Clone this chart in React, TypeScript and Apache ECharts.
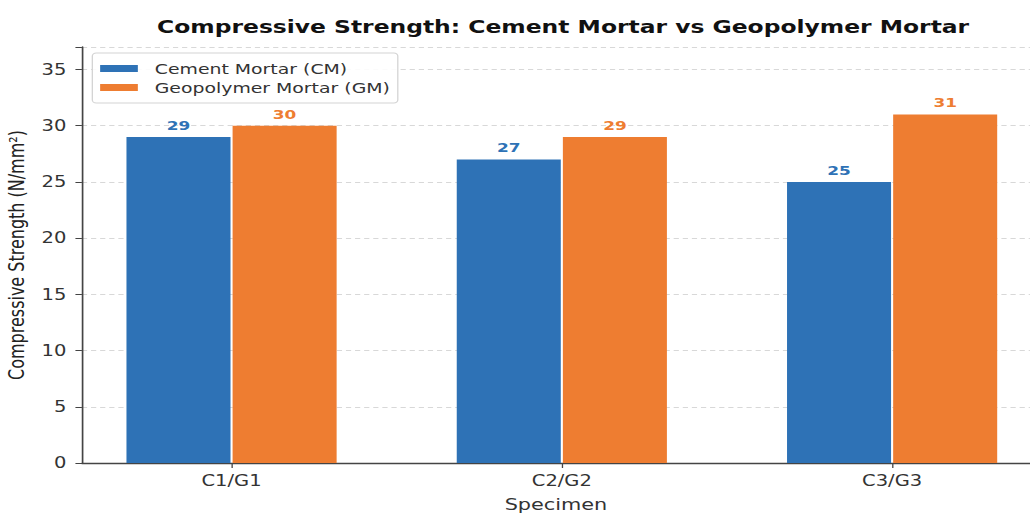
import React, { useEffect, useRef } from "react";
import * as echarts from "echarts";

const categories = ["C1/G1", "C2/G2", "C3/G3"];
const cementValues = [29, 27, 25];
const geoValues = [30, 29, 31];
const seriesNames = ["Cement Mortar (CM)", "Geopolymer Mortar (GM)"];
const yTicks = [0, 5, 10, 15, 20, 25, 30, 35];

const BLUE = "#2E72B6";
const ORANGE = "#EE7D31";
const FONT = "DejaVu Sans";

const BASE_W = 792;
const STRETCH = 1030 / BASE_W;

export default function App() {
  const ref = useRef<HTMLDivElement>(null);
  useEffect(() => {
    if (!ref.current) return;
    const chart = echarts.init(ref.current, null, { renderer: "svg" });
    const toData = (vals: number[]) => vals.map((v, i) => [i, v]);
    const labelOpt = (color: string) => ({
      show: true,
      position: "top",
      distance: 5,
      formatter: (p: any) => String(p.value[1]),
      fontFamily: FONT,
      fontWeight: "bold",
      fontSize: 13,
      color,
    });
    chart.setOption({
      animation: false,
      textStyle: { fontFamily: FONT },
      title: {
        text: "Compressive Strength: Cement Mortar vs Geopolymer Mortar",
        left: 428,
        textAlign: "center",
        top: 13,
        textStyle: { fontFamily: FONT, fontWeight: "bold", fontSize: 18, color: "#111" },
      },
      legend: {
        orient: "vertical",
        left: 71,
        top: 53,
        padding: [8, 6, 8, 6],
        itemGap: 4,
        itemWidth: 29,
        itemHeight: 7,
        borderColor: "#d4d4d4",
        borderWidth: 1,
        borderRadius: 3,
        backgroundColor: "rgba(255,255,255,0.9)",
        icon: "rect",
        textStyle: { fontFamily: FONT, fontSize: 14.5, color: "#333", padding: [0, 0, 0, 8] },
        data: seriesNames,
      },
      grid: { left: 63, top: 47, bottom: 50, right: 0, containLabel: false, outerBoundsMode: "none" },
      xAxis: {
        type: "value",
        min: -0.453,
        max: 2.4175,
        name: "Specimen",
        nameLocation: "middle",
        nameGap: 33,
        nameTextStyle: { fontFamily: FONT, fontSize: 16, color: "#333" },
        axisLine: { show: true, onZero: false, lineStyle: { color: "#444", width: 1.3 } },
        axisTick: { show: true, customValues: [0, 1, 2], length: 5, lineStyle: { color: "#444" } },
        axisLabel: {
          customValues: [0, 1, 2],
          formatter: (v: number) => categories[Math.round(v)] ?? "",
          fontFamily: FONT,
          fontSize: 15,
          color: "#333",
          margin: 10,
        },
        splitLine: { show: false },
      },
      yAxis: {
        type: "value",
        min: 0,
        max: 37,
        interval: 5,
        name: "Compressive Strength (N/mm²)",
        nameLocation: "middle",
        nameRotate: 90,
        nameGap: 38,
        nameTextStyle: { fontFamily: FONT, fontSize: 16, color: "#222" },
        axisLine: { show: true, onZero: false, lineStyle: { color: "#444", width: 1.3 } },
        axisTick: { show: true, length: 5, lineStyle: { color: "#444" } },
        axisLabel: {
          customValues: yTicks,
          fontFamily: FONT,
          fontSize: 15,
          color: "#333",
          margin: 12,
        },
        splitLine: { show: true, lineStyle: { color: "#d8d8d8", type: [4, 3], width: 1 } },
      },
      series: [
        {
          name: seriesNames[0],
          type: "bar",
          data: toData(cementValues),
          barWidth: 80,
          barGap: "2%",
          itemStyle: { color: BLUE },
          label: labelOpt(BLUE),
        },
        {
          name: seriesNames[1],
          type: "bar",
          data: toData(geoValues),
          barWidth: 80,
          barGap: "2%",
          itemStyle: { color: ORANGE },
          label: labelOpt(ORANGE),
        },
      ],
    });
    return () => chart.dispose();
  }, []);
  return (
    <div style={{ position: "fixed", left: 0, top: 0, width: 1030, height: 513, overflow: "hidden", background: "#fff" }}>
      <div
        ref={ref}
        style={{
          width: BASE_W,
          height: 513,
          transform: `scaleX(${STRETCH})`,
          transformOrigin: "0 0",
        }}
      />
    </div>
  );
}
